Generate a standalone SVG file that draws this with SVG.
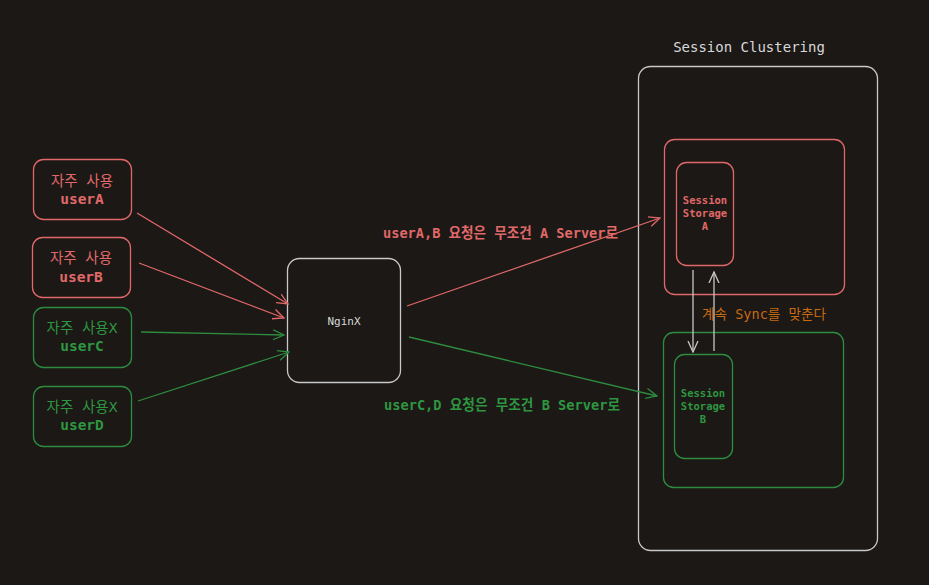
<svg xmlns="http://www.w3.org/2000/svg" width="929" height="585" viewBox="0 0 929 585">
<style>
text{font-family:"DejaVu Sans Mono","Noto Sans CJK KR",monospace;text-anchor:middle}
.red{fill:none;stroke:#e06868;stroke-width:1.3}
.grn{fill:none;stroke:#2e8c3e;stroke-width:1.3}
.gry{fill:none;stroke:#c8c8c8;stroke-width:1.3}
.tr{fill:#e06868}
.tg{fill:#2e9640}
.tw{fill:#d8d8d8}
.to{fill:#c86a10}
.b{font-weight:bold}
</style>
<defs>
<marker id="ar" viewBox="0 0 12 12" refX="11" refY="6" markerWidth="12" markerHeight="12" markerUnits="userSpaceOnUse" orient="auto"><path d="M0,1 L11,6 L0,11" fill="none" stroke="#e06868" stroke-width="1.3"/></marker>
<marker id="ag" viewBox="0 0 12 12" refX="11" refY="6" markerWidth="12" markerHeight="12" markerUnits="userSpaceOnUse" orient="auto"><path d="M0,1 L11,6 L0,11" fill="none" stroke="#2e8c3e" stroke-width="1.3"/></marker>
<marker id="aw" viewBox="0 0 12 12" refX="11" refY="6" markerWidth="12" markerHeight="12" markerUnits="userSpaceOnUse" orient="auto"><path d="M0,1 L11,6 L0,11" fill="none" stroke="#c8c8c8" stroke-width="1.3"/></marker>
</defs>
<rect width="929" height="585" fill="#1b1816"/>
<g id="cluster">
<text x="749" y="52" class="tw" font-size="14">Session Clustering</text>
<rect x="638.5" y="66.5" width="239" height="484" rx="12" class="gry"/>
</g>
<g id="userA">
<rect x="33.5" y="159.5" width="98" height="60" rx="10" class="red"/>
<text x="82" y="186" class="tr" font-size="14.5">자주 사용</text>
<text x="82" y="204" class="tr b" font-size="14.5">userA</text>
</g>
<g id="userB">
<rect x="32.5" y="237.5" width="98" height="60" rx="10" class="red"/>
<text x="81" y="263" class="tr" font-size="14.5">자주 사용</text>
<text x="81" y="282" class="tr b" font-size="14.5">userB</text>
</g>
<g id="userC">
<rect x="33.5" y="307.5" width="98" height="60" rx="10" class="grn"/>
<text x="82" y="333" class="tg" font-size="14.5">자주 사용X</text>
<text x="82" y="351" class="tg b" font-size="14.5">userC</text>
</g>
<g id="userD">
<rect x="33.5" y="386.5" width="98" height="60" rx="10" class="grn"/>
<text x="82" y="412" class="tg" font-size="14.5">자주 사용X</text>
<text x="82" y="430" class="tg b" font-size="14.5">userD</text>
</g>
<g id="nginx">
<rect x="287.5" y="258.5" width="113" height="124" rx="12" class="gry"/>
<text x="344" y="325" class="tw" font-size="11">NginX</text>
</g>
<g id="serverA">
<rect x="664.5" y="139.5" width="180" height="155" rx="10" class="red"/>
<rect x="676.5" y="162.5" width="57" height="103" rx="10" class="red"/>
<text x="705" y="204" class="tr b" font-size="10.5">Session</text>
<text x="705" y="217" class="tr b" font-size="10.5">Storage</text>
<text x="705" y="230" class="tr b" font-size="10.5">A</text>
</g>
<g id="serverB">
<rect x="663.5" y="332.5" width="180" height="155" rx="10" class="grn"/>
<rect x="674.5" y="354.5" width="58" height="104" rx="10" class="grn"/>
<text x="703" y="397" class="tg b" font-size="10.5">Session</text>
<text x="703" y="410" class="tg b" font-size="10.5">Storage</text>
<text x="703" y="423" class="tg b" font-size="10.5">B</text>
</g>
<g id="connectors">
<line x1="137" y1="213" x2="288" y2="304" class="red" marker-end="url(#ar)"/>
<line x1="139" y1="263" x2="284" y2="318" class="red" marker-end="url(#ar)"/>
<line x1="141" y1="332" x2="284" y2="335" class="grn" marker-end="url(#ag)"/>
<line x1="138" y1="401" x2="289" y2="352" class="grn" marker-end="url(#ag)"/>
<line x1="407" y1="306" x2="660" y2="218" class="red" marker-end="url(#ar)"/>
<line x1="409" y1="337" x2="657" y2="396" class="grn" marker-end="url(#ag)"/>
<line x1="693" y1="270" x2="693" y2="352" class="gry" marker-end="url(#aw)"/>
<line x1="714" y1="351" x2="714" y2="272" class="gry" marker-end="url(#aw)"/>
<text x="500.5" y="238" class="tr b" font-size="14.5" textLength="235" lengthAdjust="spacingAndGlyphs">userA,B 요청은 무조건 A Server로</text>
<text x="502" y="410" class="tg b" font-size="14.5" textLength="236" lengthAdjust="spacingAndGlyphs">userC,D 요청은 무조건 B Server로</text>
<text x="764" y="319" class="to" font-size="14" textLength="124" lengthAdjust="spacingAndGlyphs">계속 Sync를 맞춘다</text>
</g>
</svg>
